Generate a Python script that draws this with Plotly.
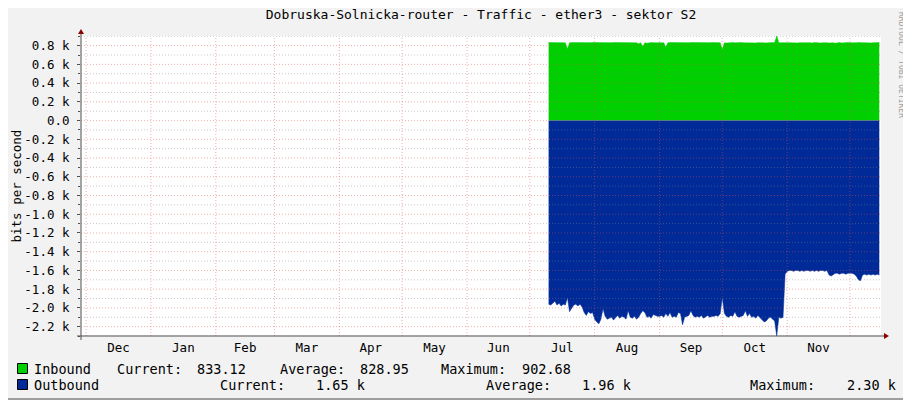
import pandas as pd
import plotly.graph_objects as go

title = "Dobruska-Solnicka-router - Traffic - ether3 - sektor S2"
first_day = "2023-07-10"

# daily inbound averages, bits per second
inbound_jul = [833, 832, 833, 832, 833, 832, 833, 832, 830, 765, 830, 833, 832, 833, 832, 833,
               832, 833, 832, 833, 832, 833]
inbound_aug = [832, 833, 832, 833, 832, 833, 832, 833, 832, 833, 832, 833, 832, 833, 832, 833,
               832, 833, 832, 831, 830, 820, 831, 790, 830, 825, 832, 833, 832, 833, 832]
inbound_sep = [833, 832, 830, 786, 831, 833, 832, 833, 832, 833, 832, 833, 832, 833, 832, 833,
               832, 833, 832, 833, 832, 833, 832, 833, 832, 833, 832, 833, 832, 831]
inbound_oct = [760, 830, 828, 832, 829, 833, 830, 832, 828, 833, 830, 829, 832, 828, 831, 833,
               829, 832, 830, 828, 833, 829, 831, 832, 829, 833, 903, 830, 832, 829, 833]
inbound_nov = [830, 832, 829, 833, 831, 828, 832, 830, 833, 829, 831, 832, 828, 833, 830, 832,
               829, 831, 833, 830, 828, 832, 830, 826, 831, 833, 829, 832, 830, 833]
inbound_dec = [831, 829, 832, 830, 833, 828, 831, 832, 830, 833, 829, 832, 831, 830, 833]

# daily outbound averages, kbit/s (drawn below zero)
outbound_jul = [1.96, 1.97, 1.95, 1.93, 1.97, 1.95, 1.98, 1.96, 1.97, 1.89, 2.04, 2.00, 1.97,
                1.96, 1.98, 1.96, 1.99, 2.05, 2.08, 2.04, 2.06, 2.05]
outbound_aug = [2.12, 2.15, 2.17, 2.12, 2.01, 2.09, 2.12, 2.11, 2.10, 2.13, 2.10, 2.08, 2.11,
                2.09, 2.10, 2.12, 2.03, 2.10, 2.11, 2.09, 2.12, 2.10, 2.06, 2.03, 2.05, 2.10,
                2.09, 2.11, 2.07, 2.08, 2.09]
outbound_sep = [2.09, 2.08, 2.10, 2.06, 2.09, 2.05, 2.10, 2.09, 2.10, 2.05, 2.06, 2.18, 2.10,
                2.09, 2.08, 2.03, 2.08, 2.10, 2.09, 2.10, 2.08, 2.11, 2.09, 2.08, 2.10, 2.09,
                2.09, 2.08, 2.09, 2.06]
outbound_oct = [1.89, 2.06, 2.09, 2.10, 2.08, 2.09, 2.04, 2.09, 2.10, 2.09, 2.08, 2.03, 2.09,
                2.06, 2.10, 2.09, 2.11, 2.08, 2.10, 2.13, 2.15, 2.14, 2.11, 2.10, 2.12, 2.14,
                2.30, 2.10, 2.11, 2.10, 1.64]
outbound_nov = [1.61, 1.60, 1.60, 1.61, 1.60, 1.60, 1.61, 1.60, 1.61, 1.60, 1.60, 1.61, 1.60,
                1.61, 1.60, 1.61, 1.60, 1.60, 1.61, 1.60, 1.65, 1.66, 1.64, 1.63, 1.63, 1.64,
                1.63, 1.63, 1.64, 1.63]
outbound_dec = [1.63, 1.63, 1.64, 1.66, 1.70, 1.71, 1.65, 1.64, 1.65, 1.64, 1.65, 1.64, 1.65,
                1.64, 1.65]

month_labels = ["Dec", "Jan", "Feb", "Mar", "Apr", "May", "Jun", "Jul", "Aug", "Sep", "Oct", "Nov"]
y_ticks = [-2200, -2000, -1800, -1600, -1400, -1200, -1000, -800, -600, -400, -200, 0,
           200, 400, 600, 800]

legend_rows = [
    ("Inbound", "#00CF00", [("Current:", 116), ("833.12", 196), ("Average:", 279),
                            ("828.95", 359), ("Maximum:", 440), ("902.68", 521)]),
    ("Outbound", "#002A97", [("Current:", 219), ("1.65 k", 315), ("Average:", 485),
                             ("1.96 k", 581), ("Maximum:", 749), ("2.30 k", 846)]),
]

inbound = inbound_jul + inbound_aug + inbound_sep + inbound_oct + inbound_nov + inbound_dec
outbound = outbound_jul + outbound_aug + outbound_sep + outbound_oct + outbound_nov + outbound_dec
outbound = [-v * 1000 for v in outbound]
days = pd.date_range(first_day, periods=len(inbound), freq="D")

month_starts = pd.date_range("2022-12-01", "2023-12-01", freq="MS")
month_mids = month_starts[:-1] + (month_starts[1:] - month_starts[:-1]) / 2
y_ticktext = ["0.0" if v == 0 else f"{v / 1000:.1f} k" for v in y_ticks]

# the page puts the figure 8px in from the corner, so the figure is 8px smaller
OFF = 8
W, H = 911 - OFF, 400 - OFF
# plot area in picture pixels
PL, PT, PW, PH = 81, 36, 800, 300
FONT = "DejaVu Sans Mono"
MGRID = "rgba(222,80,80,0.45)"
GRID = "rgba(130,130,130,0.45)"


def px(x):
    return (x - PL) / PW


def py(y):
    return (PT + PH - y) / PH


fig = go.Figure()
fig.add_trace(go.Scatter(x=days, y=inbound, mode="lines", fill="tozeroy",
                         line=dict(color="#00CF00", width=0.5), fillcolor="#00CF00",
                         hoverinfo="skip", name="Inbound"))
fig.add_trace(go.Scatter(x=days, y=outbound, mode="lines", fill="tozeroy",
                         line=dict(color="#002A97", width=0.5), fillcolor="#002A97",
                         hoverinfo="skip", name="Outbound"))

shapes = []
# grid drawn above the areas, like rrdtool does
for v in range(-2300, 901, 100):
    col = MGRID if v % 200 == 0 else GRID
    shapes.append(dict(type="line", xref="paper", yref="y", x0=0, x1=1, y0=v, y1=v,
                       line=dict(color=col, width=1, dash="1px,2px"), layer="above"))
for d in month_starts:
    shapes.append(dict(type="line", xref="x", yref="paper", x0=d, x1=d, y0=0, y1=1,
                       line=dict(color=MGRID, width=1, dash="1px,2px"), layer="above"))
# axes with arrows
shapes.append(dict(type="line", xref="paper", yref="paper", x0=px(77), x1=px(885),
                   y0=0, y1=0, line=dict(color="#505050", width=1), layer="above"))
shapes.append(dict(type="line", xref="paper", yref="paper", x0=0, x1=0,
                   y0=py(340), y1=py(33), line=dict(color="#505050", width=1), layer="above"))
shapes.append(dict(type="path", xref="paper", yref="paper",
                   path=f"M {px(884)} {py(333)} L {px(889)} {py(336)} L {px(884)} {py(339)} Z",
                   fillcolor="#8B0000", line=dict(width=0), layer="above"))
shapes.append(dict(type="path", xref="paper", yref="paper",
                   path=f"M {px(78)} {py(34)} L {px(81)} {py(29)} L {px(84)} {py(34)} Z",
                   fillcolor="#8B0000", line=dict(width=0), layer="above"))
# darker frame on the right and bottom edges
shapes.append(dict(type="line", xref="paper", yref="paper", x0=px(OFF), x1=px(911),
                   y0=py(399), y1=py(399), line=dict(color="#9E9E9E", width=2)))
shapes.append(dict(type="line", xref="paper", yref="paper", x0=px(910), x1=px(910),
                   y0=py(OFF), y1=py(400), line=dict(color="#9E9E9E", width=2)))

annotations = [
    dict(text="bits per second", x=px(15.5), y=py(186), textangle=-90),
    dict(text="RRDTOOL / TOBI OETIKER", x=px(902), y=py(65), textangle=90,
         font=dict(family=FONT, size=8, color="#A0A0A0")),
]
for i, (name, color, items) in enumerate(legend_rows):
    yc = 368.5 + i * 16
    shapes.append(dict(type="rect", xref="paper", yref="paper", x0=px(17.5), x1=px(27.5),
                       y0=py(yc - 5), y1=py(yc + 5), fillcolor=color,
                       line=dict(color="black", width=1)))
    annotations.append(dict(text=name, x=px(32), y=py(yc), xanchor="left",
                            font=dict(family=FONT, size=13.5, color="black")))
    for text, xpos in items:
        annotations.append(dict(text=text, x=px(xpos - 1), y=py(yc), xanchor="left",
                                font=dict(family=FONT, size=13.5, color="black")))
for a in annotations:
    a.update(xref="paper", yref="paper", showarrow=False)
    a.setdefault("xanchor", "center")
    a.setdefault("yanchor", "middle")
    a.setdefault("font", dict(family=FONT, size=12.5, color="black"))

fig.update_layout(
    width=W, height=H,
    margin=dict(l=PL - OFF, r=W - (PL - OFF) - PW, t=PT - OFF, b=H - (PT - OFF) - PH, pad=0),
    paper_bgcolor="#F2F2F2", plot_bgcolor="white",
    showlegend=False,
    font=dict(family=FONT, size=12.5, color="black"),
    title=dict(text=title, x=0.5, xref="paper", xanchor="center", y=1 - (14 - OFF) / H,
               yanchor="middle", font=dict(family=FONT, size=13, color="black")),
    shapes=shapes, annotations=annotations,
)
fig.update_xaxes(type="date", range=["2022-11-28 14:00", "2023-12-15 19:30"],
                 tickvals=month_mids, ticktext=month_labels, showgrid=False,
                 zeroline=False, showline=False, ticks="", ticklabelstandoff=2,
                 tickfont=dict(family=FONT, size=12.5))
fig.update_yaxes(range=[-2300, 903], tickvals=y_ticks, ticktext=y_ticktext,
                 showgrid=False, zeroline=False, showline=False,
                 ticks="outside", ticklen=3, tickcolor="#505050",
                 minor=dict(dtick=100, tick0=-2300, ticks="outside", ticklen=2,
                            tickcolor="#505050", showgrid=False),
                 ticklabelstandoff=5, tickfont=dict(family=FONT, size=12.5))

fig.write_html("out.html")
